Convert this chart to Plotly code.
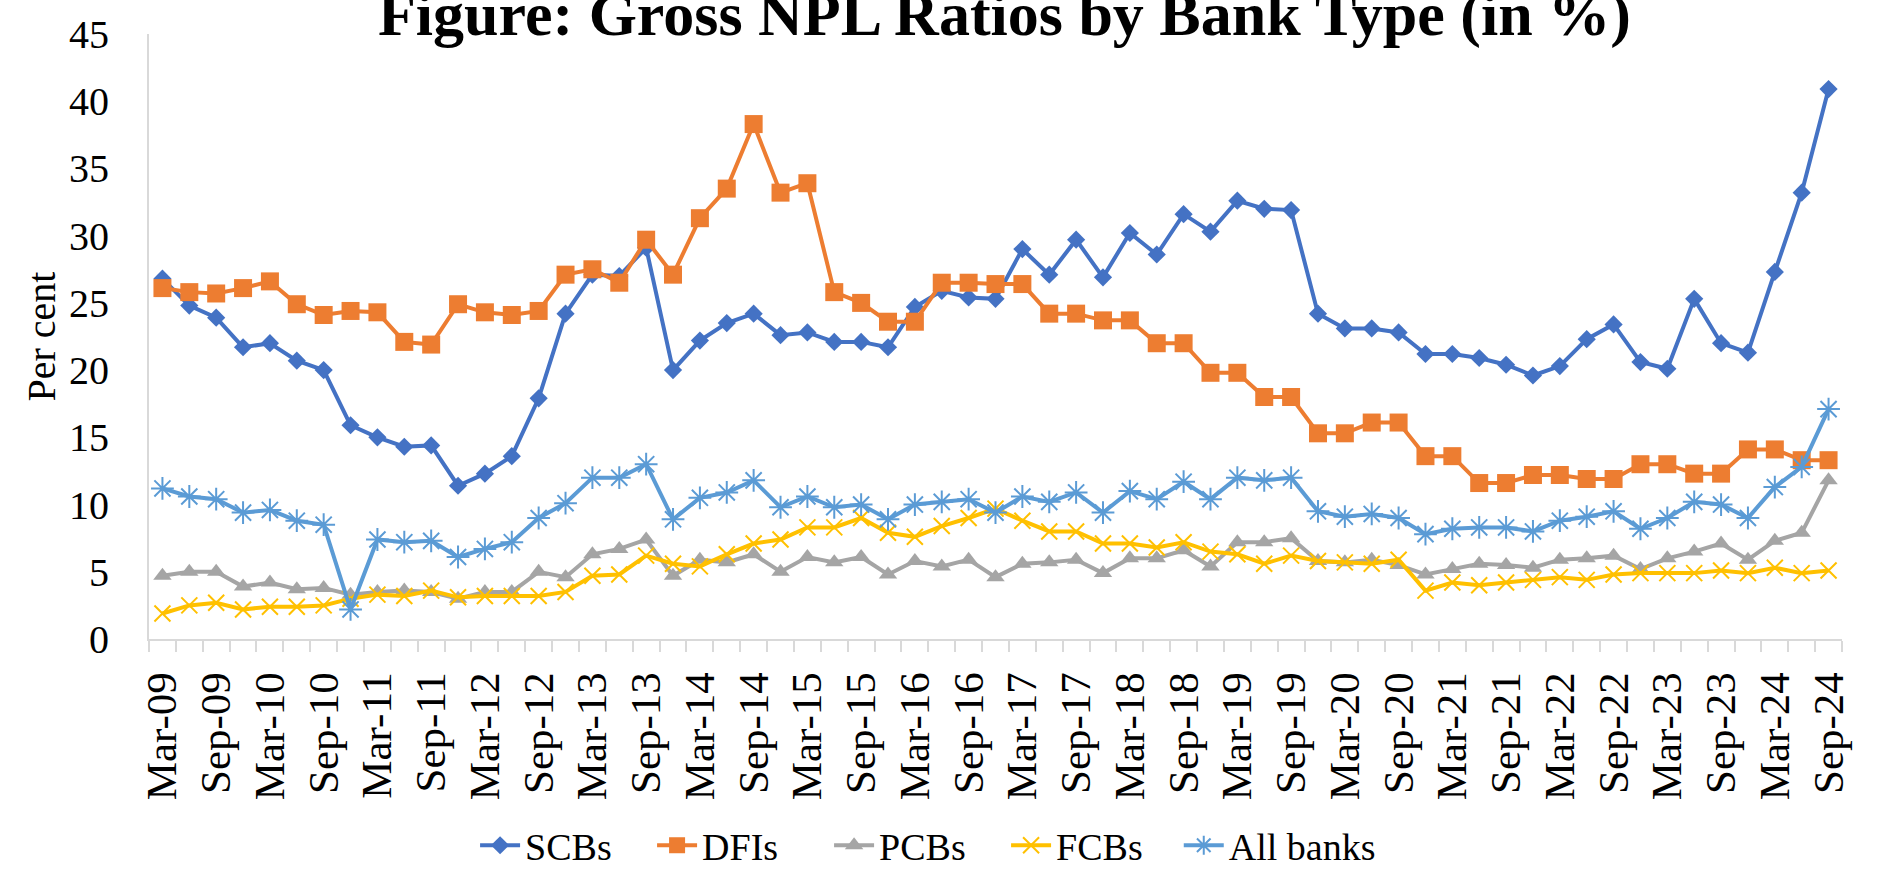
import plotly.graph_objects as go

# Quarter-end observation dates
quarters = [
    "Mar-09", "Jun-09", "Sep-09", "Dec-09",
    "Mar-10", "Jun-10", "Sep-10", "Dec-10",
    "Mar-11", "Jun-11", "Sep-11", "Dec-11",
    "Mar-12", "Jun-12", "Sep-12", "Dec-12",
    "Mar-13", "Jun-13", "Sep-13", "Dec-13",
    "Mar-14", "Jun-14", "Sep-14", "Dec-14",
    "Mar-15", "Jun-15", "Sep-15", "Dec-15",
    "Mar-16", "Jun-16", "Sep-16", "Dec-16",
    "Mar-17", "Jun-17", "Sep-17", "Dec-17",
    "Mar-18", "Jun-18", "Sep-18", "Dec-18",
    "Mar-19", "Jun-19", "Sep-19", "Dec-19",
    "Mar-20", "Jun-20", "Sep-20", "Dec-20",
    "Mar-21", "Jun-21", "Sep-21", "Dec-21",
    "Mar-22", "Jun-22", "Sep-22", "Dec-22",
    "Mar-23", "Jun-23", "Sep-23", "Dec-23",
    "Mar-24", "Jun-24", "Sep-24",
]

# Gross NPL ratios (per cent)
scbs = [
    26.8, 24.8, 23.9, 21.7, 22.0, 20.7, 20.0, 15.9, 15.0, 14.3, 14.4, 11.4,
    12.3, 13.6, 17.9, 24.2, 27.1, 27.0, 29.1, 20.0, 22.2, 23.5, 24.2, 22.6,
    22.8, 22.1, 22.1, 21.7, 24.7, 25.9, 25.4, 25.3, 29.0, 27.1, 29.7, 26.9,
    30.2, 28.6, 31.6, 30.3, 32.6, 32.0, 31.9, 24.2, 23.1, 23.1, 22.8, 21.2,
    21.2, 20.9, 20.4, 19.6, 20.3, 22.3, 23.4, 20.6, 20.1, 25.3, 22.0, 21.3,
    27.3, 33.2, 40.9,
]
dfis = [
    26.1, 25.8, 25.7, 26.1, 26.6, 24.9, 24.1, 24.4, 24.3, 22.1, 21.9, 24.9,
    24.3, 24.1, 24.4, 27.1, 27.5, 26.5, 29.7, 27.1, 31.3, 33.5, 38.3, 33.2,
    33.9, 25.8, 25.0, 23.6, 23.6, 26.5, 26.5, 26.4, 26.4, 24.2, 24.2, 23.7,
    23.7, 22.0, 22.0, 19.8, 19.8, 18.0, 18.0, 15.3, 15.3, 16.1, 16.1, 13.6,
    13.6, 11.6, 11.6, 12.2, 12.2, 11.9, 11.9, 13.0, 13.0, 12.3, 12.3, 14.1,
    14.1, 13.3, 13.3,
]
pcbs = [
    4.7, 5.0, 5.0, 3.9, 4.2, 3.7, 3.8, 3.3, 3.5, 3.6, 3.5, 3.0,
    3.5, 3.5, 5.0, 4.6, 6.3, 6.7, 7.4, 4.7, 5.9, 5.7, 6.3, 5.0,
    6.1, 5.7, 6.1, 4.8, 5.8, 5.4, 5.9, 4.6, 5.6, 5.7, 5.9, 4.9,
    6.0, 6.0, 6.6, 5.4, 7.2, 7.2, 7.5, 5.8, 5.7, 5.9, 5.5, 4.8,
    5.2, 5.6, 5.5, 5.3, 5.9, 6.0, 6.2, 5.2, 6.0, 6.5, 7.1, 5.9,
    7.3, 7.9, 11.8,
]
fcbs = [
    1.9, 2.5, 2.7, 2.2, 2.4, 2.4, 2.5, 3.0, 3.3, 3.2, 3.6, 3.1,
    3.2, 3.2, 3.2, 3.5, 4.7, 4.8, 6.2, 5.6, 5.4, 6.3, 7.1, 7.4,
    8.3, 8.3, 9.0, 7.9, 7.6, 8.4, 9.0, 9.7, 8.8, 8.0, 8.0, 7.1,
    7.1, 6.8, 7.2, 6.5, 6.3, 5.6, 6.2, 5.8, 5.7, 5.6, 5.9, 3.6,
    4.2, 4.0, 4.2, 4.4, 4.6, 4.4, 4.8, 4.9, 4.9, 4.9, 5.1, 4.9,
    5.3, 4.9, 5.1,
]
all_banks = [
    11.2, 10.6, 10.4, 9.4, 9.6, 8.8, 8.5, 2.2, 7.4, 7.2, 7.3, 6.1,
    6.7, 7.2, 9.0, 10.1, 12.0, 12.0, 13.0, 8.9, 10.5, 10.9, 11.8, 9.8,
    10.6, 9.8, 10.0, 8.9, 10.0, 10.2, 10.4, 9.4, 10.6, 10.2, 10.9, 9.4,
    11.0, 10.4, 11.7, 10.4, 12.0, 11.8, 12.0, 9.5, 9.1, 9.3, 9.0, 7.8,
    8.2, 8.3, 8.3, 8.0, 8.8, 9.1, 9.5, 8.2, 9.0, 10.2, 10.0, 9.0,
    11.3, 12.8, 17.1,
]

# Only March and September quarters carry a visible label
tick_text = [q if q.startswith(("Mar", "Sep")) else "" for q in quarters]

FONT = "Liberation Serif, Times New Roman, serif"

# name, values, colour, marker style, legend box
series = [
    ("SCBs", scbs, "#4472C4", dict(symbol="diamond", size=14), "legend"),
    ("DFIs", dfis, "#ED7D31", dict(symbol="square", size=18), "legend"),
    ("PCBs", pcbs, "#A5A5A5", dict(symbol="triangle-up", size=16), "legend"),
    ("FCBs", fcbs, "#FFC000", dict(symbol="x-thin-open", size=16, line=dict(width=2)), "legend"),
    ("All banks", all_banks, "#5B9BD5", dict(symbol="asterisk-open", size=19, line=dict(width=2)), "legend2"),
]

fig = go.Figure()
for name, values, color, marker, leg in series:
    m = dict(color=color, **marker)
    if "line" in m:
        m["line"] = dict(color=color, **m["line"])
    fig.add_trace(go.Scatter(
        x=quarters, y=values, name=name, mode="lines+markers",
        line=dict(color=color, width=4),
        marker=m, legend=leg,
    ))

legend_common = dict(
    orientation="h", xref="container", yref="container",
    xanchor="left", y=0.027, yanchor="middle",
    font=dict(size=38), itemwidth=40, tracegroupgap=0,
    bgcolor="rgba(0,0,0,0)",
)

fig.update_layout(
    width=1880, height=869,
    margin=dict(l=149, r=38, t=27, b=230),
    paper_bgcolor="white", plot_bgcolor="white",
    font=dict(family=FONT, size=40, color="black"),
    showlegend=True,
    legend=dict(x=0.2527, entrywidth=122, entrywidthmode="pixels", **legend_common),
    legend2=dict(x=0.627, **legend_common),
    annotations=[dict(
        text="<b>Figure: Gross NPL Ratios by Bank Type (in %)</b>",
        xref="paper", yref="paper", x=0.5, y=1.021,
        xanchor="center", yanchor="middle", xshift=9, yshift=7,
        showarrow=False, font=dict(family=FONT, size=62, color="black"),
    )],
)

fig.update_xaxes(
    type="category", categoryorder="array", categoryarray=quarters,
    range=[-0.5, len(quarters) - 0.5], autorange=False,
    tickmode="array", tickvals=quarters, ticktext=tick_text,
    tickangle=-90, tickson="boundaries",
    ticks="outside", ticklen=11, tickwidth=2, tickcolor="#D9D9D9",
    ticklabelstandoff=14,
    tickfont=dict(family=FONT, size=43),
    showline=True, linecolor="#D9D9D9", linewidth=2,
    showgrid=False, zeroline=False,
)
fig.update_yaxes(
    range=[0, 45], autorange=False, tickmode="linear", tick0=0, dtick=5,
    ticks="", ticklabelstandoff=30,
    tickfont=dict(family=FONT, size=40),
    showline=True, linecolor="#D9D9D9", linewidth=2,
    showgrid=False, zeroline=False,
    title=dict(text="Per cent", font=dict(family=FONT, size=40), standoff=1),
)

fig.write_html("out.html")
